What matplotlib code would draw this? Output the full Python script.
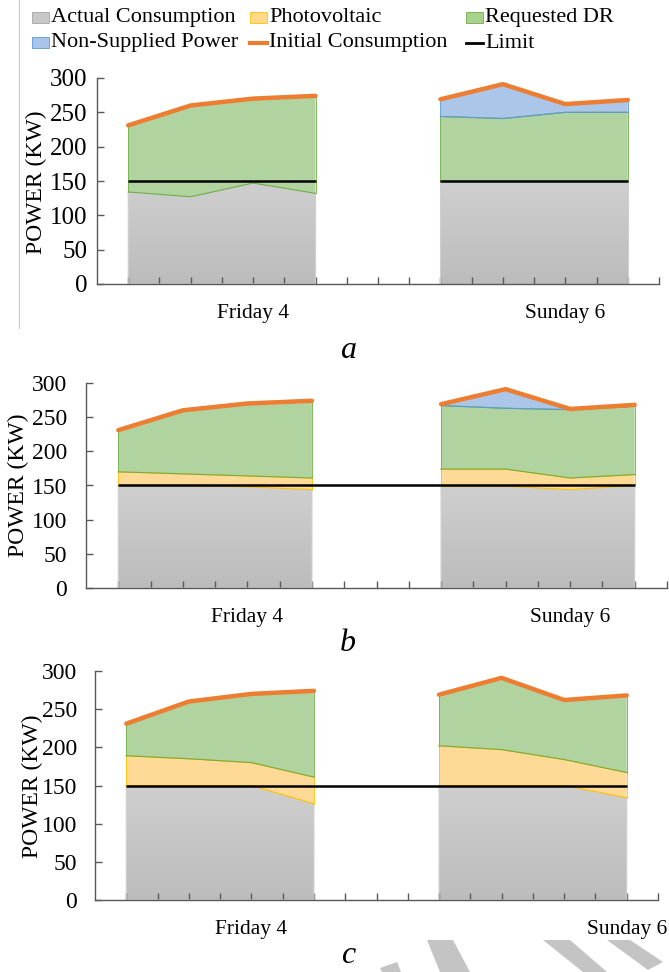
import numpy as np
import matplotlib.pyplot as plt
from matplotlib.colors import LinearSegmentedColormap
from matplotlib.patches import Rectangle, Polygon
from matplotlib.lines import Line2D

plt.rcParams['font.family'] = ['Liberation Serif', 'DejaVu Serif']

# category slots of the hourly axis (18 intervals), data every other slot
fri_slots = [1, 3, 5, 7]
sun_slots = [11, 13, 15, 17]
day_labels = ['Friday 4', 'Sunday 6']
limit = 150

initial_fri = [231, 260, 270, 274]
initial_sun = [269, 291, 262, 268]

# panel a
actual_a_fri = [134, 127, 147, 132]
pv_a_fri = [0, 0, 0, 0]
dr_a_fri = [97, 133, 123, 142]
ns_a_fri = [0, 0, 0, 0]
actual_a_sun = [150, 150, 150, 150]
pv_a_sun = [0, 0, 0, 0]
dr_a_sun = [94, 91, 100, 100]
ns_a_sun = [25, 50, 12, 18]

# panel b
actual_b_fri = [150, 150, 148, 144]
pv_b_fri = [20, 17, 16, 17]
dr_b_fri = [61, 93, 106, 113]
ns_b_fri = [0, 0, 0, 0]
actual_b_sun = [149, 149, 144, 150]
pv_b_sun = [25, 25, 17, 16]
dr_b_sun = [93, 89, 100, 100]
ns_b_sun = [2, 28, 1, 2]

# panel c
actual_c_fri = [150, 150, 150, 126]
pv_c_fri = [39, 35, 30, 35]
dr_c_fri = [42, 75, 90, 113]
ns_c_fri = [0, 0, 0, 0]
actual_c_sun = [150, 150, 150, 134]
pv_c_sun = [52, 47, 34, 33]
dr_c_sun = [67, 94, 78, 101]
ns_c_sun = [0, 0, 0, 0]

panels = [
    ('a', (actual_a_fri, pv_a_fri, dr_a_fri, ns_a_fri), (actual_a_sun, pv_a_sun, dr_a_sun, ns_a_sun)),
    ('b', (actual_b_fri, pv_b_fri, dr_b_fri, ns_b_fri), (actual_b_sun, pv_b_sun, dr_b_sun, ns_b_sun)),
    ('c', (actual_c_fri, pv_c_fri, dr_c_fri, ns_c_fri), (actual_c_sun, pv_c_sun, dr_c_sun, ns_c_sun)),
]

W, H = 669, 972
# pixel boxes (left, top, right, bottom) of each plot area
boxes = [(97, 78, 659, 284), (86, 383, 667, 588), (95, 671, 658, 900)]
ylabel_pos = [(36, 182), (18, 485), (32, 786)]
ytick_pad = [10, 19, 18]
ytick_size = [18, 17, 17]
sunday_slot = [15, 15, 17]
letter_y = [350, 643, 955]

c_pv, e_pv = '#ffda96', '#ffc000'
c_dr, e_dr = '#b0d3a0', '#70ad47'
c_ns, e_ns = '#abc6e8', '#5b9bd5'
c_init = '#ed7d31'
axis_col = '#595959'
gray_cmap = LinearSegmentedColormap.from_list('g', ['#bcbcbc', '#e2e2e2'])
grad = np.linspace(0, 1, 256).reshape(-1, 1)

fig = plt.figure(figsize=(W / 100, H / 100), dpi=100)


def draw_day(ax, xs, initial, layers):
    actual, pv, dr, ns = [np.array(v, float) for v in layers]
    x = np.array(xs, float)
    base = actual
    gray = ax.fill_between(x, 0, actual, facecolor='none', edgecolor='#cfcfcf', lw=0.8, zorder=2)
    im = ax.imshow(grad, extent=[0, 18, 0, 300], origin='lower', aspect='auto',
                   cmap=gray_cmap, zorder=1)
    im.set_clip_path(gray.get_paths()[0], transform=ax.transData)
    for vals, fc, ec in [(pv, c_pv, e_pv), (dr, c_dr, e_dr), (ns, c_ns, e_ns)]:
        if vals.sum() == 0:
            continue
        top = base + vals
        ax.fill_between(x, base, top, facecolor=fc, edgecolor='none', zorder=2)
        ax.plot(x, base, color=ec, lw=0.8, zorder=3)
        ax.plot(x, top, color=ec, lw=0.8, zorder=3)
        ax.plot([x[-1], x[-1]], [base[-1], top[-1]], color=ec, lw=0.6, zorder=3)
        ax.plot([x[0], x[0]], [base[0], top[0]], color=ec, lw=0.6, zorder=3)
        base = top
    ax.plot(x, initial, color=c_init, lw=3.2, solid_capstyle='round', zorder=6)


for i, (letter, fri, sun) in enumerate(panels):
    l, t, r, b = boxes[i]
    ax = fig.add_axes([l / W, 1 - b / H, (r - l) / W, (b - t) / H])
    draw_day(ax, fri_slots, initial_fri, fri)
    draw_day(ax, sun_slots, initial_sun, sun)

    if i == 0:
        ax.hlines(limit, fri_slots[0], fri_slots[-1], color='black', lw=1.8, zorder=5)
        ax.hlines(limit, sun_slots[0], sun_slots[-1], color='black', lw=1.8, zorder=5)
    else:
        ax.hlines(limit, fri_slots[0], sun_slots[-1], color='black', lw=1.8, zorder=5)

    ax.set_xlim(0, 18)
    ax.set_ylim(0, 300)
    ax.set_yticks(range(0, 301, 50))
    ax.set_xticks(range(1, 19))
    ax.set_xticklabels([])
    for s in ['top', 'right']:
        ax.spines[s].set_visible(False)
    for s in ['left', 'bottom']:
        ax.spines[s].set_color(axis_col)
        ax.spines[s].set_linewidth(1.0)
    ax.tick_params(axis='both', direction='in', length=5, width=1.0, color=axis_col)
    ax.tick_params(axis='y', labelsize=ytick_size[i], pad=ytick_pad[i] * 0.72)

    for xs, lab in [(5, day_labels[0]), (sunday_slot[i], day_labels[1])]:
        ax.annotate(lab, xy=(xs, 0), xycoords=('data', 'axes fraction'),
                    xytext=(0, -34 * 0.72), textcoords='offset points',
                    ha='center', va='baseline', fontsize=15.5)

    lx, ly = ylabel_pos[i]
    fig.text(lx / W, 1 - ly / H, 'POWER (KW)', rotation=90, ha='center', va='center', fontsize=17)
    fig.text(348 / W, 1 - letter_y[i] / H, letter, ha='center', va='center',
             fontsize=23, style='italic')

# legend drawn in figure pixels to follow the original's fixed column grid
legend_items = [
    ('patch', '#c8c8c8', '#a6a6a6', 'Actual Consumption'),
    ('patch', '#ffd98a', '#ffc000', 'Photovoltaic'),
    ('patch', '#a9d18e', '#70ad47', 'Requested DR'),
    ('patch', '#a9c4eb', '#5b9bd5', 'Non-Supplied Power'),
    ('line', c_init, None, 'Initial Consumption'),
    ('line', 'black', None, 'Limit'),
]
col_x = [32, 250, 466]
row_y = [17.5, 43]
for k, (kind, fc, ec, lab) in enumerate(legend_items):
    x0 = col_x[k % 3]
    y0 = row_y[k // 3]
    if kind == 'patch':
        fig.patches.append(Rectangle((x0 / W, 1 - (y0 + 5.5) / H), 17 / W, 11 / H,
                                     facecolor=fc, edgecolor=ec, lw=0.6,
                                     transform=fig.transFigure))
    else:
        fig.lines.append(Line2D([x0 / W, (x0 + 17) / W], [1 - y0 / H] * 2, color=fc,
                                lw=3 if fc == c_init else 2, transform=fig.transFigure))
    fig.text((x0 + 19) / W, 1 - y0 / H, lab, ha='left', va='center', fontsize=16)

# border fragment of the original chart frame
fig.lines.append(Line2D([19 / W] * 2, [1, 1 - 328 / H], color='#c8c8c8', lw=0.8,
                        transform=fig.transFigure))

# grey watermark strokes along the bottom edge of the page
marks = [
    [(427, 940), (453, 940), (470, 972), (440, 972)],
    [(543, 940), (570, 940), (607, 972), (583, 972)],
    [(607, 940), (630, 940), (663, 962), (648, 970)],
    [(380, 968), (397, 962), (401, 972), (382, 972)],
]
for pts in marks:
    fig.patches.append(Polygon([(px / W, 1 - py / H) for px, py in pts], closed=True,
                               facecolor='#c4c4c4', edgecolor='none',
                               transform=fig.transFigure, zorder=0))

fig.savefig('out.png', dpi=100)
